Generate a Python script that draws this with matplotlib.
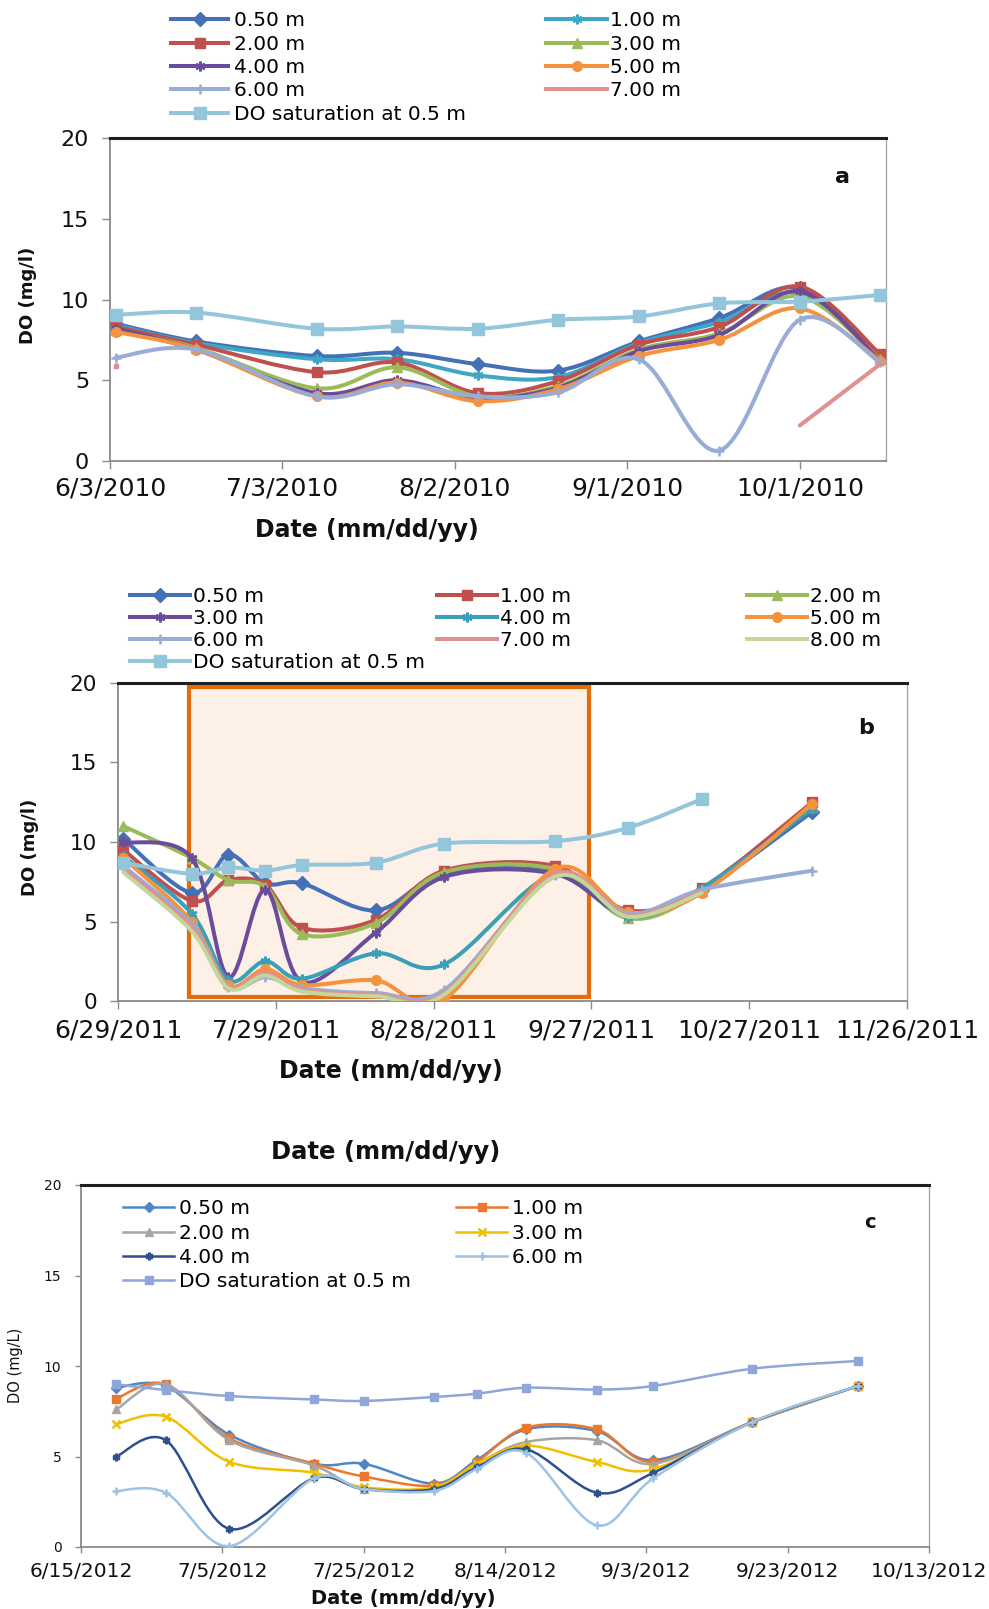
import numpy as np
import pandas as pd
import matplotlib
matplotlib.use('Agg')
import matplotlib.pyplot as plt
import matplotlib.dates as mdates
from matplotlib.lines import Line2D
from matplotlib.patches import PathPatch, Rectangle
from matplotlib.path import Path

nan = np.nan

# ---------- 2010 profile (a) ----------
A_DATES = ['2010-06-04', '2010-06-18', '2010-07-09', '2010-07-23', '2010-08-06',
           '2010-08-20', '2010-09-03', '2010-09-17', '2010-10-01', '2010-10-15']
A_050 = [8.5, 7.4, 6.5, 6.7, 6.0, 5.6, 7.4, 8.85, 10.7, 6.4]
A_100 = [8.4, 7.3, 6.3, 6.3, 5.3, 5.2, 7.3, 8.6, 10.4, 6.3]
A_200 = [8.3, 7.2, 5.5, 6.1, 4.2, 4.95, 7.2, 8.3, 10.8, 6.6]
A_300 = [8.1, 7.0, 4.5, 5.8, 4.0, 4.65, 6.9, 7.9, 10.2, 6.3]
A_400 = [8.2, 6.9, 4.2, 5.0, 3.9, 4.55, 6.8, 7.8, 10.5, 6.2]
A_500 = [8.0, 6.9, 4.0, 4.85, 3.7, 4.45, 6.5, 7.5, 9.45, 6.2]
A_600 = [6.4, 6.9, 4.0, 4.75, 4.0, 4.25, 6.3, 0.65, 8.75, 6.1]
A_700 = [5.9, nan, nan, nan, nan, nan, nan, nan, 2.2, 6.0]
A_SAT = [9.05, 9.19, 8.19, 8.33, 8.19, 8.74, 8.95, 9.76, 9.87, 10.28]
A_XLIM = ['2010-06-03', '2010-10-16']
A_TICK_START = '2010-06-03'

# ---------- 2011 profile (b) ----------
B_DATES = ['2011-06-30', '2011-07-13', '2011-07-20', '2011-07-27', '2011-08-03',
           '2011-08-17', '2011-08-30', '2011-09-20', '2011-10-04', '2011-10-18',
           '2011-11-08']
B_050 = [10.2, 6.8, 9.2, 7.4, 7.4, 5.7, 8.0, 8.1, 5.5, 7.0, 11.9]
B_100 = [9.5, 6.3, 7.6, 7.3, 4.6, 5.1, 8.2, 8.5, 5.7, 7.1, 12.5]
B_200 = [11.0, 9.0, 7.6, 7.2, 4.2, 4.9, 8.1, 8.3, 5.2, 6.9, 12.2]
B_300 = [10.0, 9.0, 1.5, 7.0, 1.2, 4.3, 7.8, 8.0, 5.4, 7.0, 12.3]
B_400 = [9.1, 5.5, 1.3, 2.5, 1.4, 3.0, 2.3, 8.0, 5.3, 7.1, 12.1]
B_500 = [9.0, 5.0, 1.0, 2.0, 1.0, 1.3, 0.1, 8.3, 5.6, 6.8, 12.4]
B_600 = [8.5, 4.8, 0.9, 1.5, 0.8, 0.5, 0.7, 7.9, 5.5, 7.0, 8.2]
B_700 = [8.3, 4.6, 0.9, 1.8, 0.7, 0.4, 0.5, 8.0, 5.4, 6.9, nan]
B_800 = [8.1, 4.4, 0.8, 1.6, 0.6, 0.3, 0.4, 7.8, 5.3, 6.8, nan]
B_SAT = [8.7, 8.0, 8.4, 8.2, 8.55, 8.7, 9.9, 10.05, 10.9, 12.7, nan]
B_XLIM = ['2011-06-29', '2011-11-26']
B_TICK_START = '2011-06-29'
B_BOX = ['2011-07-12 12:00', '2011-09-26 12:00']
B_BOX_Y = [0.25, 19.75]

# ---------- 2012 profile (c) ----------
C_DATES = ['2012-06-20', '2012-06-27', '2012-07-06', '2012-07-18', '2012-07-25',
           '2012-08-04', '2012-08-10', '2012-08-17', '2012-08-27', '2012-09-04',
           '2012-09-18', '2012-10-03']
C_050 = [8.8, 8.9, 6.2, 4.6, 4.6, 3.5, 4.8, 6.5, 6.4, 4.8, 6.9, 8.9]
C_100 = [8.2, 9.0, 6.0, 4.6, 3.9, 3.4, 4.7, 6.6, 6.5, 4.7, 6.9, 8.9]
C_200 = [7.6, 9.0, 5.9, 4.5, 3.2, 3.3, 4.6, 5.8, 5.9, 4.6, 6.9, 8.9]
C_300 = [6.8, 7.2, 4.7, 4.1, 3.3, 3.3, 4.6, 5.6, 4.7, 4.3, 6.9, 8.9]
C_400 = [5.0, 5.9, 1.0, 3.8, 3.2, 3.2, 4.4, 5.4, 3.0, 4.1, 6.9, 8.9]
C_600 = [3.1, 3.0, 0.05, 3.8, 3.2, 3.1, 4.3, 5.2, 1.2, 3.8, 6.9, 8.9]
C_SAT = [8.99, 8.67, 8.34, 8.15, 8.07, 8.29, 8.47, 8.8, 8.7, 8.9, 9.85, 10.28]
C_XLIM = ['2012-06-15', '2012-10-13']
C_TICK_START = '2012-06-15'

SAT_LABEL = 'DO saturation at 0.5 m'

W, H = 989, 1609
LEG_FS = 14.5
plt.rcParams.update({'font.family': 'DejaVu Sans'})
fig = plt.figure(figsize=(W / 100, H / 100), dpi=100)


def px_axes(l, t, r, b):
    return fig.add_axes([l / W, 1 - b / H, (r - l) / W, (b - t) / H])


def smooth_path(x, y):
    # Excel-like smoothed line: cubic Bezier through every point
    p = np.column_stack([x, y])
    n = len(p)
    verts, codes = [p[0]], [Path.MOVETO]
    for i in range(n - 1):
        p0 = p[i - 1] if i > 0 else p[i]
        p3 = p[i + 2] if i + 2 < n else p[i + 1]
        c1 = p[i] + (p[i + 1] - p0) / 6.0
        c2 = p[i + 1] - (p3 - p[i]) / 6.0
        verts += [c1, c2, p[i + 1]]
        codes += [Path.CURVE4] * 3
    return Path(verts, codes)


def draw_series(ax, dates, vals, color, marker, lw, ms, z):
    x = mdates.date2num(pd.to_datetime(dates))
    y = np.asarray(vals, float)
    idx = np.flatnonzero(~np.isnan(y))
    runs = np.split(idx, np.flatnonzero(np.diff(idx) > 1) + 1)
    for r in runs:
        if len(r) >= 2:
            ax.add_patch(PathPatch(smooth_path(x[r], y[r]), fill=False, edgecolor=color,
                                   lw=lw, capstyle='round', joinstyle='round', zorder=z))
        elif len(r) == 1 and marker is None:
            ax.plot(x[r], y[r], ls='none', marker='s', ms=3.5, color=color, zorder=z)
    mew = 1.8 if marker in ('+', 'x', (6, 2, 0)) else 1.0
    if marker is not None:
        ax.plot(x[idx], y[idx], ls='none', marker=marker, ms=ms, color=color,
                mec=color, mew=mew, zorder=z + 0.1)
    return Line2D([], [], color=color, lw=lw, marker=marker, ms=ms, mec=color, mew=mew)


def style_axes(ax, xlim, tick_start, step, nticks, xfs, yfs, xpad, ypad, ticklen):
    ax.set_xlim(mdates.date2num(pd.to_datetime(xlim)))
    ax.set_ylim(0, 20)
    ticks = pd.date_range(tick_start, periods=nticks, freq=f'{step}D')
    ax.set_xticks(mdates.date2num(ticks))
    ax.set_xticklabels([f'{d.month}/{d.day}/{d.year}' for d in ticks], fontsize=xfs)
    ax.set_yticks([0, 5, 10, 15, 20])
    ax.set_yticklabels(['0', '5', '10', '15', '20'], fontsize=yfs)
    for s in ('left', 'bottom'):
        ax.spines[s].set_color('#8a8a8a')
        ax.spines[s].set_linewidth(1.3)
    ax.spines['right'].set_color('#a6a6a6')
    ax.spines['right'].set_linewidth(1.0)
    ax.spines['top'].set_color('#1e1e1e')
    ax.spines['top'].set_linewidth(2.2)
    ax.tick_params(axis='both', direction='out', length=ticklen, width=1.0,
                   color='#8a8a8a', labelcolor='#111111')
    ax.tick_params(axis='x', pad=xpad)
    ax.tick_params(axis='y', pad=ypad)


def column_legend(handles, labels, x_px, row1_px, spacing, hlen, tpad):
    fs_px = LEG_FS * 100 / 72
    fig.legend(handles, labels, loc='upper left',
               bbox_to_anchor=(x_px / W, 1 - (row1_px - 0.44 * fs_px) / H),
               bbox_transform=fig.transFigure, frameon=False, fontsize=LEG_FS,
               handlelength=hlen, handletextpad=tpad, labelspacing=spacing,
               borderpad=0, borderaxespad=0, numpoints=1)


LABEL_KW = dict(fontweight='bold', ha='center', va='center', color='#111111')

# ---------- panel a ----------
ax_a = px_axes(110, 138, 886, 461)
style_axes(ax_a, A_XLIM, A_TICK_START, 30, 5, 18, 16, 5, 9, 6)
series_a = [
    ('0.50 m', A_050, '#4370b6', 'D'),
    ('1.00 m', A_100, '#3fa6c4', (6, 2, 0)),
    ('2.00 m', A_200, '#c0504d', 's'),
    ('3.00 m', A_300, '#9bbb59', '^'),
    ('4.00 m', A_400, '#6b4c9a', (6, 2, 0)),
    ('5.00 m', A_500, '#f5923e', 'o'),
    ('6.00 m', A_600, '#98acd6', '+'),
    ('7.00 m', A_700, '#e0908e', None),
    (SAT_LABEL, A_SAT, '#93c6da', 's'),
]
hand_a = {}
for k, (lab, vals, col, mk) in enumerate(series_a):
    ms = 9 if lab == SAT_LABEL else 7
    hand_a[lab] = draw_series(ax_a, A_DATES, vals, col, mk, 2.9, ms, 2 + k)
col1 = ['0.50 m', '2.00 m', '4.00 m', '6.00 m', SAT_LABEL]
col2 = ['1.00 m', '3.00 m', '5.00 m', '7.00 m']
column_legend([hand_a[l] for l in col1], col1, 171, 20, 0.22, 2.85, 0.3)
column_legend([hand_a[l] for l in col2], col2, 546, 20, 0.22, 3.05, 0.15)
fig.text(842 / W, 1 - 177 / H, 'a', fontsize=16, **LABEL_KW)
fig.text(367 / W, 1 - 530 / H, 'Date (mm/dd/yy)', fontsize=17, **LABEL_KW)
fig.text(28 / W, 1 - 295 / H, 'DO (mg/l)', fontsize=13, rotation=90, **LABEL_KW)

# ---------- panel b ----------
ax_b = px_axes(118, 683, 907, 1001)
style_axes(ax_b, B_XLIM, B_TICK_START, 30, 6, 18, 15.5, 6.5, 9, 6)
bx = mdates.date2num(pd.to_datetime(B_BOX))
ax_b.add_patch(Rectangle((bx[0], B_BOX_Y[0]), bx[1] - bx[0], B_BOX_Y[1] - B_BOX_Y[0],
                         facecolor='#fdf0e6', edgecolor='#e46c0a', lw=3, zorder=0.5))
series_b = [
    ('0.50 m', B_050, '#4370b6', 'D'),
    ('1.00 m', B_100, '#c0504d', 's'),
    ('2.00 m', B_200, '#9bbb59', '^'),
    ('3.00 m', B_300, '#6b4c9a', (6, 2, 0)),
    ('4.00 m', B_400, '#3a9fb8', (6, 2, 0)),
    ('5.00 m', B_500, '#f5923e', 'o'),
    ('6.00 m', B_600, '#98acd6', '+'),
    ('7.00 m', B_700, '#e0908e', None),
    ('8.00 m', B_800, '#c3d69b', None),
    (SAT_LABEL, B_SAT, '#93c6da', 's'),
]
hand_b = {}
for k, (lab, vals, col, mk) in enumerate(series_b):
    ms = 9 if lab == SAT_LABEL else 7
    hand_b[lab] = draw_series(ax_b, B_DATES, vals, col, mk, 2.9, ms, 2 + k)
cols_b = [['0.50 m', '3.00 m', '6.00 m', SAT_LABEL],
          ['1.00 m', '4.00 m', '7.00 m'],
          ['2.00 m', '5.00 m', '8.00 m']]
for cx, labs in zip([130, 437, 747], cols_b):
    column_legend([hand_b[l] for l in labs], labs, cx, 596, 0.14, 3.0, 0.12)
fig.text(866 / W, 1 - 728 / H, 'b', fontsize=16, **LABEL_KW)
fig.text(391 / W, 1 - 1071 / H, 'Date (mm/dd/yy)', fontsize=17, **LABEL_KW)
fig.text(30 / W, 1 - 847 / H, 'DO (mg/l)', fontsize=13, rotation=90, **LABEL_KW)

# ---------- panel c ----------
ax_c = px_axes(81, 1185, 929, 1547)
style_axes(ax_c, C_XLIM, C_TICK_START, 20, 7, 14.5, 10, 6.5, 10, 4)
series_c = [
    ('0.50 m', C_050, '#4f86c6', 'D'),
    ('1.00 m', C_100, '#e8792e', 's'),
    ('2.00 m', C_200, '#a5a5a5', '^'),
    ('3.00 m', C_300, '#f0c000', 'x'),
    ('4.00 m', C_400, '#2f4f8f', (6, 2, 0)),
    ('6.00 m', C_600, '#9dc3e6', '+'),
    (SAT_LABEL, C_SAT, '#8ea6d8', 's'),
]
hand_c = {}
for k, (lab, vals, col, mk) in enumerate(series_c):
    hand_c[lab] = draw_series(ax_c, C_DATES, vals, col, mk, 1.8, 5.5, 2 + k)
cols_c = [['0.50 m', '2.00 m', '4.00 m', SAT_LABEL],
          ['1.00 m', '3.00 m', '6.00 m']]
for cx, labs in zip([123, 456], cols_c):
    column_legend([hand_c[l] for l in labs], labs, cx, 1208, 0.27, 2.55, 0.25)
fig.text(870 / W, 1 - 1223 / H, 'c', fontsize=14, **LABEL_KW)
fig.text(386 / W, 1 - 1152 / H, 'Date (mm/dd/yy)', fontsize=17.5, **LABEL_KW)
fig.text(403 / W, 1 - 1599 / H, 'Date (mm/dd/yy)', fontsize=14, **LABEL_KW)
fig.text(16 / W, 1 - 1365 / H, 'DO (mg/L)', fontsize=10.5, rotation=90,
         ha='center', va='center', color='#111111')

fig.savefig('out.png', dpi=100)
